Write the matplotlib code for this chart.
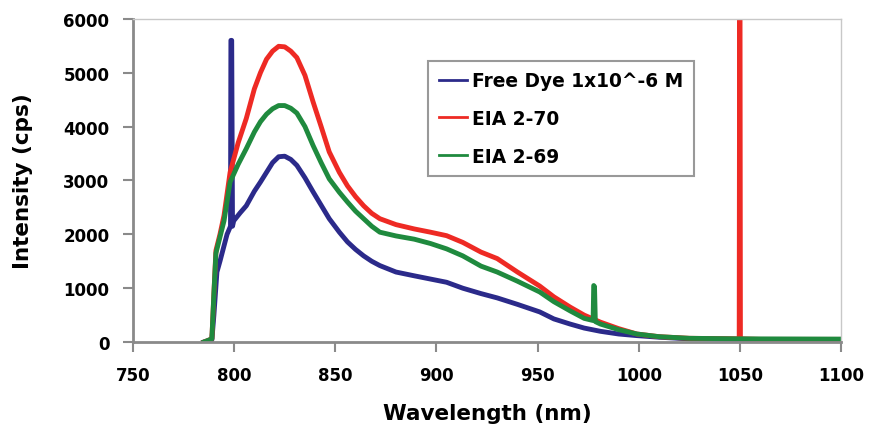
import matplotlib
matplotlib.use("Agg")
import matplotlib.pyplot as plt

# ------------------------------------------------------------
# Data (wavelength in nm, intensity in cps)
# ------------------------------------------------------------
wl_free = [785, 789, 790, 791.5, 793, 796.5, 798.2, 798.4, 798.8, 799.2, 799.8,
           803, 806, 810, 813, 816, 819, 822, 825, 828, 831, 835, 839, 843, 847,
           852, 856, 860, 864, 868, 872, 880, 889, 897, 905, 913, 922, 930, 940,
           951, 958, 966, 973, 981, 990, 999, 1010, 1025, 1050, 1100]
int_free = [0, 40, 500, 1300, 1500, 2000, 2150, 5600, 5600, 2150, 2250,
            2400, 2530, 2800, 2970, 3150, 3330, 3440, 3450, 3390, 3280, 3050, 2790, 2540, 2290,
            2040, 1860, 1720, 1600, 1500, 1420, 1300, 1230, 1170, 1110, 1000, 900, 820, 700,
            560, 430, 335, 260, 200, 150, 120, 90, 60, 50, 45]

wl_270 = [785, 789, 790, 791, 793, 795, 798, 802, 806, 810, 813, 816, 819, 822,
          825, 828, 831, 835, 839, 843, 847, 852, 856, 860, 864, 868, 872, 880,
          889, 897, 905, 913, 922, 930, 940, 951, 958, 966, 973, 981, 990, 999,
          1010, 1025, 1049.6, 1049.8, 1050.0, 1050.2, 1060, 1080, 1100]
int_270 = [0, 60, 900, 1700, 2000, 2350, 3150, 3700, 4150, 4700, 5000, 5250, 5400, 5490,
           5480, 5400, 5280, 4950, 4460, 4000, 3530, 3150, 2900, 2700, 2530, 2390, 2290, 2180,
           2100, 2040, 1975, 1850, 1670, 1550, 1300, 1040, 840, 650, 500, 370, 250, 150,
           100, 70, 60, 6500, 6500, 60, 50, 50, 50]

wl_269 = [785, 789, 790, 791, 793, 795, 798, 802, 806, 810, 813, 816, 819, 822,
          825, 828, 831, 835, 839, 843, 847, 852, 856, 860, 864, 868, 872, 880,
          889, 897, 905, 913, 922, 930, 940, 951, 958, 966, 973, 977.4, 977.7,
          978.1, 978.5, 981, 990, 999, 1010, 1025, 1050, 1100]
int_269 = [0, 60, 900, 1650, 1950, 2250, 2970, 3300, 3590, 3900, 4090, 4230, 4330, 4390,
           4390, 4340, 4250, 4000, 3650, 3330, 3030, 2780, 2600, 2430, 2290, 2150, 2040, 1970,
           1910, 1830, 1730, 1600, 1410, 1300, 1130, 930, 750, 580, 440, 400, 1050,
           1030, 380, 335, 230, 150, 100, 70, 60, 55]

series_labels = ["Free Dye 1x10^-6 M", "EIA 2-70", "EIA 2-69"]
series_colors = ["#2b2a8a", "#ee2a24", "#1f8a3e"]

x_ticks = [750, 800, 850, 900, 950, 1000, 1050, 1100]
y_ticks = [0, 1000, 2000, 3000, 4000, 5000, 6000]

# ------------------------------------------------------------
# Plot
# ------------------------------------------------------------
fig = plt.figure(figsize=(8.69, 4.31), dpi=100)
ax = fig.add_axes([0.153, 0.204, 0.815, 0.750])

for wl, inten, lab, col in zip([wl_free, wl_270, wl_269],
                               [int_free, int_270, int_269],
                               series_labels, series_colors):
    ax.plot(wl, inten, color=col, lw=3.5, label=lab, solid_joinstyle="round")

ax.set_xlim(750, 1100)
ax.set_ylim(0, 6000)
ax.set_xticks(x_ticks)
ax.set_yticks(y_ticks)

for side in ["left", "bottom"]:
    ax.spines[side].set_color("#8a8a8a")
    ax.spines[side].set_linewidth(2)
for side in ["top", "right"]:
    ax.spines[side].set_color("#c8c8c8")
    ax.spines[side].set_linewidth(1)

ax.tick_params(axis="both", direction="out", length=7, width=1.5,
               color="#8a8a8a", pad=10, labelsize=12)
for t in ax.get_xticklabels() + ax.get_yticklabels():
    t.set_fontweight("bold")

ax.set_xlabel("Wavelength (nm)", fontsize=15.5, fontweight="bold", labelpad=14)
ax.set_ylabel("Intensity (cps)", fontsize=15.5, fontweight="bold", labelpad=22)

leg = ax.legend(loc="upper left", bbox_to_anchor=(0.404, 0.899), fancybox=False,
                prop={"weight": "bold", "size": 13.4}, handlelength=1.5,
                handletextpad=0.3, labelspacing=1.02, borderpad=0.55)
leg.get_frame().set_edgecolor("#808080")
leg.get_frame().set_linewidth(1.5)
for line in leg.get_lines():
    line.set_linewidth(2)

fig.savefig("out.png", dpi=100)
